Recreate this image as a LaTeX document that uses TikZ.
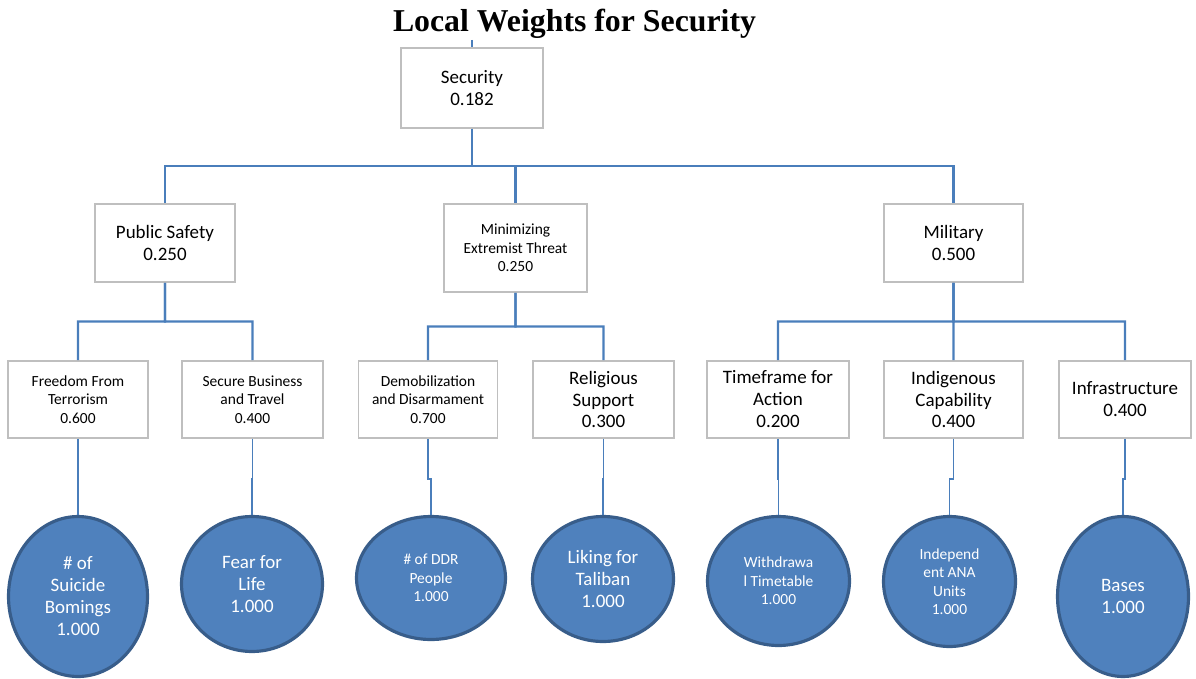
\documentclass[tikz,border=0pt]{standalone}
\usepackage{fontspec}
\setmainfont{Carlito}
\newfontfamily\titlefont{Liberation Serif}
\usetikzlibrary{shapes.geometric,calc}
\definecolor{boxgray}{HTML}{BFBFBF}
\definecolor{linkblue}{HTML}{4A7EBB}
\definecolor{circfill}{HTML}{4F81BD}
\definecolor{circedge}{HTML}{385D8A}
\begin{document}
\begin{tikzpicture}[x=0.02cm,y=-0.02cm,
  bigtxt/.style={font=\fontsize{10.8}{12.5}\selectfont},
  smalltxt/.style={font=\fontsize{8.8}{10.5}\selectfont},
  wbox/.style={draw=boxgray, line width=1.1pt, fill=white, align=center, inner sep=0pt},
  leaf/.style={ellipse, draw=circedge, line width=1.8pt, fill=circfill, text=white, align=center, inner sep=0pt},
  link/.style={draw=linkblue, line width=1.2pt},
  thinlink/.style={draw=linkblue, line width=0.9pt},
  elbow/.style={to path={-- ($(\tikztostart)!0.5!(\tikztostart |- \tikztotarget)$) -| (\tikztotarget)}},
  drop/.style={to path={-- ++(0,40) -| (\tikztotarget)}}
]
\useasboundingbox (0,0) rectangle (1196,679);

% title
\node[font=\titlefont\bfseries\fontsize{18.1}{20}\selectfont, anchor=base, inner sep=0pt] (title) at (574.5,32) {Local Weights for Security};

% level 1
\node[wbox, bigtxt, minimum width=2.84cm, minimum height=1.6cm] (sec) at (472,88) {Security\\0.182};

% level 2
\node[wbox, bigtxt, minimum width=2.8cm, minimum height=1.56cm] (ps) at (165,243) {Public Safety\\0.250};
\node[wbox, smalltxt, minimum width=2.86cm, minimum height=1.76cm] (met) at (515.5,248) {Minimizing\\Extremist Threat\\0.250};
\node[wbox, bigtxt, minimum width=2.78cm, minimum height=1.56cm] (mil) at (953.5,243) {Military\\0.500};

% level 3
\node[wbox, smalltxt, minimum width=2.8cm, minimum height=1.54cm] (fr) at (78,399.5) {Freedom From\\Terrorism\\0.600};
\node[wbox, smalltxt, minimum width=2.82cm, minimum height=1.54cm] (sb) at (252.5,399.5) {Secure Business\\and Travel\\0.400};
\node[wbox, smalltxt, minimum width=2.78cm, minimum height=1.54cm] (dd) at (428,399.5) {Demobilization\\and Disarmament\\0.700};
\node[wbox, bigtxt, minimum width=2.82cm, minimum height=1.54cm] (rs) at (603.5,399.5) {Religious\\Support\\0.300};
\node[wbox, bigtxt, minimum width=2.84cm, minimum height=1.54cm] (tf) at (778,399.5) {Timeframe for\\Action\\0.200};
\node[wbox, bigtxt, minimum width=2.78cm, minimum height=1.54cm] (ic) at (953.5,399.5) {Indigenous\\Capability\\0.400};
\node[wbox, bigtxt, minimum width=2.64cm, minimum height=1.54cm] (inf) at (1125,399.5) {Infrastructure\\0.400};

% leaves
\node[leaf, bigtxt, minimum width=2.78cm, minimum height=3.2cm] (c1) at (78,596.5) {\# of\\Suicide\\Bomings\\1.000};
\node[leaf, bigtxt, minimum width=2.82cm, minimum height=2.7cm] (c2) at (252,584) {Fear for\\Life\\1.000};
\node[leaf, smalltxt, minimum width=2.98cm, minimum height=2.46cm] (c3) at (431,578) {\# of DDR\\People\\1.000};
\node[leaf, bigtxt, minimum width=2.82cm, minimum height=2.5cm] (c4) at (603,579) {Liking for\\Taliban\\1.000};
\node[leaf, smalltxt, minimum width=2.84cm, minimum height=2.58cm] (c5) at (778.5,581) {Withdrawa\\l Timetable\\1.000};
\node[leaf, smalltxt, minimum width=2.64cm, minimum height=2.6cm] (c6) at (949.5,581.5) {Independ\\ent ANA\\Units\\1.000};
\node[leaf, bigtxt, minimum width=2.62cm, minimum height=3.2cm] (c7) at (1123,596.5) {Bases\\1.000};

% connectors
\coordinate (topend) at (472,40);
\draw[link] (topend) -- (sec.north);
\draw[link] (sec.south) to[elbow] (ps.north);
\draw[link] (sec.south) to[elbow] (met.north);
\draw[link] (sec.south) to[elbow] (mil.north);

\draw[link] (ps.south) to[elbow] (fr.north);
\draw[link] (ps.south) to[elbow] (sb.north);
\draw[link] (met.south) to[elbow] (dd.north);
\draw[link] (met.south) to[elbow] (rs.north);
\draw[link] (mil.south) to[elbow] (tf.north);
\draw[link] (mil.south) to[elbow] (ic.north);
\draw[link] (mil.south) to[elbow] (inf.north);

\draw[thinlink] (fr.south) to[drop] (c1.north);
\draw[thinlink] (sb.south) to[drop] (c2.north);
\draw[thinlink] (dd.south) to[drop] (c3.north);
\draw[thinlink] (rs.south) to[drop] (c4.north);
\draw[thinlink] (tf.south) to[drop] (c5.north);
\draw[thinlink] (ic.south) to[drop] (c6.north);
\draw[thinlink] (inf.south) to[drop] (c7.north);
\end{tikzpicture}
\end{document}
